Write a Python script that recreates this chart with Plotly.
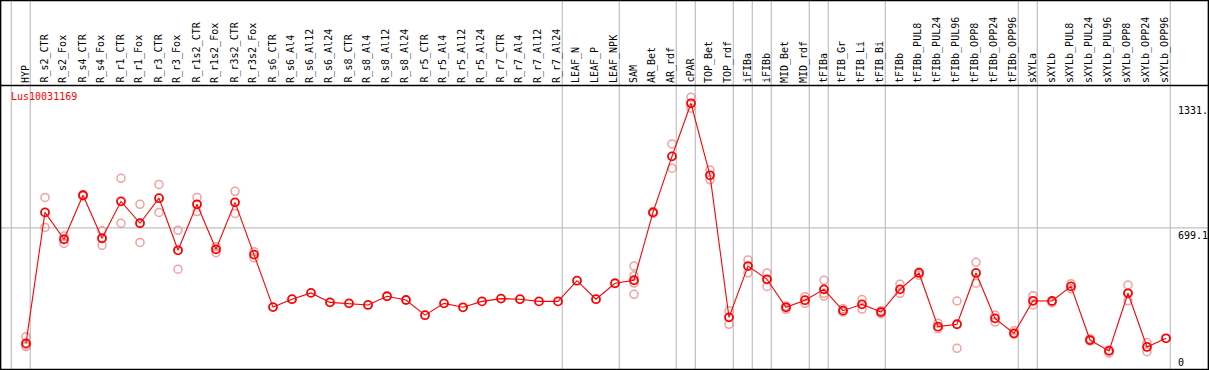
import plotly.graph_objects as go

categories = ["HYP", "R_s2_CTR", "R_s2_Fox", "R_s4_CTR", "R_s4_Fox", "R_r1_CTR", "R_r1_Fox",
              "R_r3_CTR", "R_r3_Fox", "R_r1s2_CTR", "R_r1s2_Fox", "R_r3s2_CTR", "R_r3s2_Fox",
              "R_s6_CTR", "R_s6_Al4", "R_s6_Al12", "R_s6_Al24", "R_s8_CTR", "R_s8_Al4", "R_s8_Al12",
              "R_s8_Al24", "R_r5_CTR", "R_r5_Al4", "R_r5_Al12", "R_r5_Al24", "R_r7_CTR", "R_r7_Al4",
              "R_r7_Al12", "R_r7_Al24", "LEAF_N", "LEAF_P", "LEAF_NPK", "SAM", "AR_Bet", "AR_rdf",
              "cPAR", "TOP_Bet", "TOP_rdf", "iFIBa", "iFIBb", "MID_Bet", "MID_rdf", "tFIBa",
              "tFIB_Gr", "tFIB_Li", "tFIB_Bi", "tFIBb", "tFIBb_PUL8", "tFIBb_PUL24", "tFIBb_PUL96",
              "tFIBb_OPP8", "tFIBb_OPP24", "tFIBb_OPP96", "sXYLa", "sXYLb", "sXYLb_PUL8",
              "sXYLb_PUL24", "sXYLb_PUL96", "sXYLb_OPP8", "sXYLb_OPP24", "sXYLb_OPP96"]

means = [114, 778, 642, 865, 647, 834, 723, 850, 586, 819, 591, 829, 564,
         298, 338, 370, 322, 317, 309, 353, 334, 257, 317, 297, 327, 341, 338, 327, 327,
         432, 338, 419, 434, 778, 1062, 1331, 966, 246, 506, 439, 297, 333, 388,
         280, 312, 273, 388, 471, 199, 211, 471, 241, 165, 330, 329, 403,
         131, 76, 368, 96, 140]

rep_a = [148, 854, 658, 868, 685, 951, 819, 920, 687, 854, 604, 885, 579,
         None, None, None, None, None, None, None, None, None, None, None, None, None, None, None, None,
         None, None, None, 506, 782, 1125, 1361, 993, 280, 537, 471, 304, 351, 434,
         290, 336, 280, 414, 477, 216, 329, 525, 258, 178, 356, 320, 417,
         138, 81, 410, 118, None]
rep_b = [97, 702, 621, 861, 611, 723, 626, 778, 490, 782, 574, 773, 548,
         None, None, None, None, None, None, None, None, None, None, None, None, None, None, None, None,
         None, None, None, 457, 773, 1002, 1306, 943, 211, 472, 403, 287, 317, 368,
         273, 288, 263, 368, 459, 189, 89, 419, 222, 160, 309, None, 391,
         126, 65, 330, 72, None]
rep_c = [106, None, None, None, None, None, None, None, None, None, None, None, None,
         None, None, None, None, None, None, None, None, None, None, None, None, None, None, None, None,
         None, None, None, 420, None, None, None, None, None, None, None, None, None, 354,
         None, None, None, None, None, None, None, None, None, None, None, None, None,
         None, None, None, None, None]
rep_d = [None, None, None, None, None, None, None, None, None, None, None, None, None,
         None, None, None, None, None, None, None, None, None, None, None, None, None, None, None, None,
         None, None, None, 363, None, None, None, None, None, None, None, None, None, None,
         None, None, None, None, None, None, None, None, None, None, None, None, None,
         None, None, None, None, None]

group_starts = ["HYP", "R_s2_CTR", "LEAF_N", "SAM", "cPAR", "TOP_Bet", "iFIBa", "iFIBb",
                "MID_Bet", "tFIBa", "tFIB_Gr", "tFIBb", "sXYLa", "sXYLb"]
gene_name = "Lus10031169"
tick_values = [1331, 699.1, 0]
tick_labels = ["1331.", "699.1", "0"]

W, H = 1209, 370
PX0, STEP = 26, 19          # pixel position of first category and spacing
Y0PX, KPX = 365.9, 0.1973   # pixel row of value 0, pixels per unit

xs = list(range(len(categories)))
x_lo = -PX0 / STEP
x_hi = x_lo + W / STEP
y_lo = -(H - Y0PX) / KPX
y_hi = Y0PX / KPX

FONT = "DejaVu Sans Mono"
fig = go.Figure()

pink = "rgba(235,120,120,0.7)"
for reps in (rep_a, rep_b, rep_c, rep_d):
    fig.add_trace(go.Scatter(
        x=xs, y=reps, mode="markers",
        marker=dict(symbol="circle-open", size=8, color=pink, line=dict(width=1.5, color=pink)),
        hoverinfo="skip", showlegend=False, cliponaxis=False))

fig.add_trace(go.Scatter(
    x=xs, y=means, mode="lines+markers",
    line=dict(color="#ff0000", width=1.1),
    marker=dict(symbol="circle-open", size=8, color="#ff0000", line=dict(width=1.8, color="#ff0000")),
    showlegend=False, cliponaxis=False))

shapes = []
for g in group_starts + [None]:
    i = categories.index(g) if g is not None else len(categories)
    shapes.append(dict(type="line", xref="x", yref="paper", x0=i - 0.775, x1=i - 0.775,
                       y0=0, y1=1, line=dict(color="#c0c0c0", width=1.2), layer="below"))
shapes.append(dict(type="line", xref="paper", yref="y", x0=0, x1=1, y0=tick_values[1],
                   y1=tick_values[1], line=dict(color="#c0c0c0", width=1.2), layer="below"))
shapes.append(dict(type="line", xref="paper", yref="paper", x0=0, x1=1,
                   y0=1 - 85.5 / H, y1=1 - 85.5 / H, line=dict(color="black", width=1.5)))
shapes.append(dict(type="rect", xref="paper", yref="paper", x0=0.6 / W, x1=1 - 0.6 / W,
                   y0=0.6 / H, y1=1 - 0.6 / H, line=dict(color="black", width=1.5)))

annotations = []
for i, c in enumerate(categories):
    annotations.append(dict(x=i, y=1 - 84 / H, xref="x", yref="paper", text=c, textangle=-90,
                            showarrow=False, xanchor="center", yanchor="bottom", xshift=-1,
                            font=dict(family=FONT, size=10, color="black"), borderpad=0))
annotations.append(dict(x=9.5 / W, y=1 - 90 / H, xref="paper", yref="paper", text=gene_name,
                        showarrow=False, xanchor="left", yanchor="top", borderpad=0,
                        font=dict(family=FONT, size=10, color="#ff0000")))
for v, t in zip(tick_values[:2], tick_labels[:2]):
    annotations.append(dict(x=1177 / W, y=v, xref="paper", yref="y", text=t, showarrow=False,
                            xanchor="left", yanchor="top", yshift=-1, borderpad=0,
                            font=dict(family=FONT, size=10, color="black")))
annotations.append(dict(x=1177 / W, y=1 - 362 / H, xref="paper", yref="paper", text=tick_labels[2],
                        showarrow=False, xanchor="left", yanchor="middle", borderpad=0,
                        font=dict(family=FONT, size=10, color="black")))

fig.update_layout(
    width=W, height=H, margin=dict(l=0, r=0, t=0, b=0),
    paper_bgcolor="white", plot_bgcolor="white",
    xaxis=dict(range=[x_lo, x_hi], visible=False, fixedrange=True),
    yaxis=dict(range=[y_lo, y_hi], visible=False, fixedrange=True),
    shapes=shapes, annotations=annotations, showlegend=False,
)

fig.write_html("out.html", config={"displayModeBar": False})

# remove the browser's default page margin so the figure sits at the window's top-left corner
with open("out.html", "r", encoding="utf-8") as f:
    html = f.read()
html = html.replace("<head>", "<head><style>html,body{margin:0;padding:0;overflow:hidden;}</style>", 1)
with open("out.html", "w", encoding="utf-8") as f:
    f.write(html)
